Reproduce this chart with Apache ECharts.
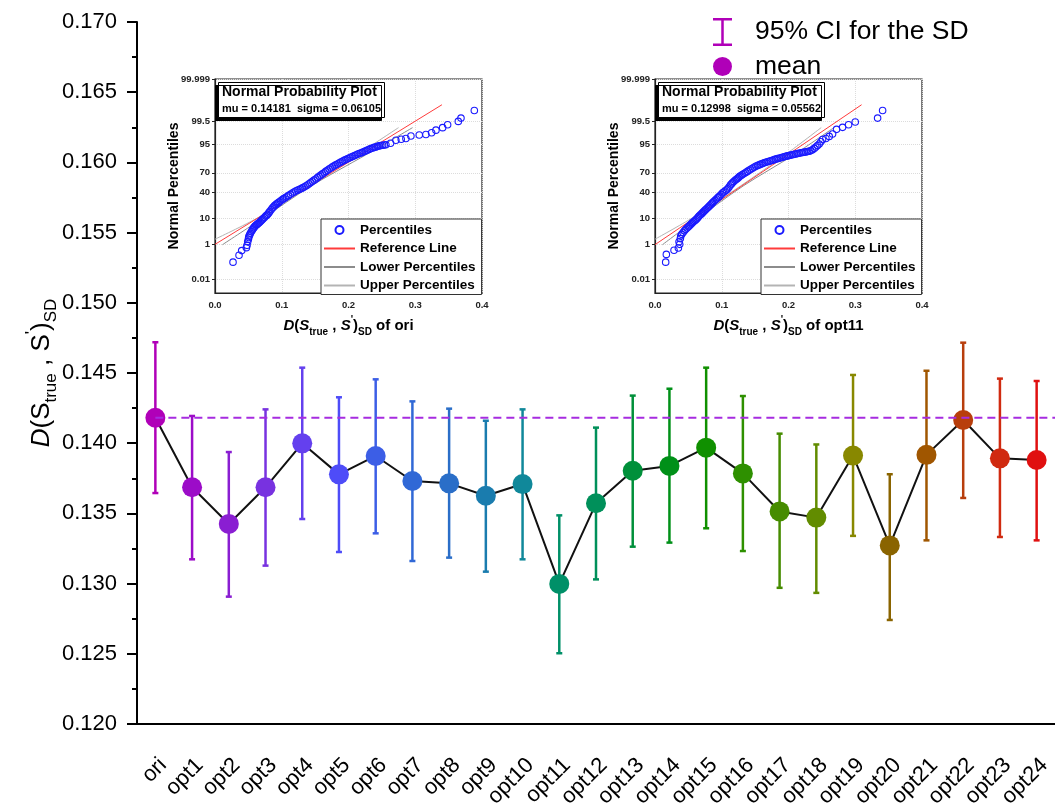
<!DOCTYPE html>
<html>
<head>
<meta charset="utf-8">
<script src="https://cdn.jsdelivr.net/npm/echarts@6/dist/echarts.min.js"></script>
<style>
html,body{margin:0;padding:0;background:#fff;}
#chart{width:1055px;height:811px;}
</style>
</head>
<body>
<div id="chart"></div>
<script>
// ---------------- data ----------------
const categories = ['ori','opt1','opt2','opt3','opt4','opt5','opt6','opt7','opt8','opt9','opt10','opt11','opt12','opt13','opt14','opt15','opt16','opt17','opt18','opt19','opt20','opt21','opt22','opt23','opt24'];
const means = [0.14181,0.13686,0.13425,0.13686,0.13999,0.13778,0.13909,0.13731,0.13714,0.13626,0.13709,0.12998,0.13572,0.13804,0.13838,0.13968,0.13785,0.13514,0.13470,0.13912,0.13272,0.13917,0.14165,0.13892,0.13880];
const ciUpper = [0.14719,0.14194,0.13937,0.14241,0.14538,0.14327,0.14455,0.14298,0.14246,0.14160,0.14241,0.13486,0.14111,0.14339,0.14388,0.14538,0.14336,0.14068,0.13991,0.14486,0.13779,0.14516,0.14716,0.14460,0.14443];
const ciLower = [0.13645,0.13173,0.12907,0.13128,0.13460,0.13225,0.13358,0.13161,0.13185,0.13085,0.13173,0.12504,0.13030,0.13263,0.13292,0.13394,0.13232,0.12970,0.12934,0.13340,0.12741,0.13308,0.13610,0.13332,0.13308];
const pointColors = ['#b000b8','#9c0cc8','#8a1ed2','#7832e0','#6440ee','#4e4cf8','#3c5ee6','#3068d6','#2a6ec8','#1a7cae','#10889a','#009068','#00905a','#00903a','#009018','#109000','#2e9000','#468c00','#628c00','#888800','#8a6400','#a05600','#b83e0c','#d02a10','#e01010'];
const yTicksMain = [0.120,0.125,0.130,0.135,0.140,0.145,0.150,0.155,0.160,0.165,0.170];

// inset: normal probability plots ([value, percentile %])
const pctTickLabels = ['0.01','1','10','40','70','95','99.5','99.999'];
const pctTicks = [0.01,1,10,40,70,95,99.5,99.999];
const pctAxisMin = 0.001, pctAxisMax = 99.999;

const muOri = 0.14181, sigmaOri = 0.06105;
const muOpt11 = 0.12998, sigmaOpt11 = 0.05562;

const percOri = [[0.027,0.12],[0.036,0.29],[0.040,0.5],[0.047,0.7],[0.048,0.9],[0.049,1.3],[0.050,1.7],[0.051,2.3],[0.053,3.0],[0.056,4.0],[0.058,4.8],[0.060,5.5],[0.063,6.3],[0.066,7.1],[0.069,8.3],[0.072,9.6],[0.076,11.5],[0.079,13],[0.082,15.5],[0.086,19],[0.089,21.5],[0.092,23.5],[0.096,26],[0.101,29.5],[0.105,32],[0.110,35],[0.116,39],[0.121,42],[0.126,44.5],[0.131,47],[0.136,50],[0.141,53.5],[0.146,57.5],[0.151,61],[0.156,65],[0.161,68.5],[0.166,72],[0.171,75],[0.176,77.7],[0.181,80],[0.186,82],[0.191,83.8],[0.196,85.4],[0.201,86.8],[0.206,88],[0.211,89.2],[0.216,90.2],[0.221,91],[0.226,92],[0.231,92.8],[0.236,93.5],[0.241,94],[0.246,94.5],[0.251,94.8],[0.256,95],[0.263,95.6],[0.271,96.6],[0.279,96.9],[0.286,97.1],[0.2935,97.7],[0.306,97.9],[0.316,98.0],[0.3245,98.3],[0.331,98.7],[0.341,99.0],[0.3485,99.27],[0.3645,99.5],[0.3685,99.66],[0.3885,99.87],
  [0.0505,2.0],[0.052,2.6],[0.0545,3.5],[0.057,4.4],[0.059,5.1],[0.0615,5.9],[0.0645,6.7],[0.0675,7.7],[0.0705,8.9],[0.074,10.5],[0.0775,12.2],[0.0805,14.2],[0.084,17.2],[0.0875,20.2],[0.0905,22.5],[0.094,24.7],[0.0985,27.7],[0.103,30.7],[0.1075,33.5],[0.113,37],[0.1185,40.5],[0.1235,43.2],[0.1285,45.7],[0.1335,48.5],[0.1385,51.7],[0.1435,55.5],[0.1485,59.2],[0.1535,63],[0.1585,66.7],[0.1635,70.2],[0.1685,73.5],[0.1735,76.4],[0.1785,78.9],[0.1835,81],[0.1885,82.9],[0.1935,84.6],[0.1985,86.1],[0.2035,87.4],[0.2085,88.6],[0.2135,89.7],[0.2185,90.6],[0.2235,91.5],[0.2285,92.4],[0.2335,93.2],[0.2385,93.8],[0.2435,94.3],[0.2485,94.7],[0.2535,94.9]];
const percOpt11 = [[0.016,0.12],[0.017,0.32],[0.0285,0.52],[0.035,0.67],[0.037,1.0],[0.036,1.3],[0.038,1.8],[0.0385,2.3],[0.042,3.2],[0.046,4.2],[0.050,5.2],[0.053,6.1],[0.056,7.1],[0.060,8.5],[0.063,9.8],[0.066,11.5],[0.070,13.5],[0.073,15.5],[0.076,17.5],[0.080,20],[0.083,22.5],[0.086,25],[0.090,28.5],[0.094,32],[0.097,34.5],[0.101,39],[0.105,42],[0.109,45.5],[0.113,51.5],[0.116,55],[0.120,59],[0.124,62],[0.127,65],[0.131,67.6],[0.136,70.5],[0.141,73.5],[0.146,76],[0.151,78.4],[0.156,80],[0.161,81.5],[0.166,82.8],[0.171,83.8],[0.176,84.8],[0.181,85.8],[0.186,86.6],[0.191,87.4],[0.196,88.2],[0.201,88.8],[0.206,89.4],[0.211,89.9],[0.216,90.4],[0.221,90.9],[0.226,91.3],[0.231,91.7],[0.236,92.6],[0.241,94],[0.246,95.3],[0.251,96.8],[0.256,97.1],[0.261,97.6],[0.266,98.1],[0.272,98.8],[0.281,99.03],[0.29,99.27],[0.30,99.46],[0.3335,99.66],[0.341,99.87],
  [0.040,2.7],[0.044,3.7],[0.048,4.7],[0.0515,5.6],[0.0545,6.6],[0.058,7.8],[0.0615,9.1],[0.0645,10.6],[0.068,12.5],[0.0715,14.5],[0.0745,16.5],[0.078,18.7],[0.0815,21.2],[0.0845,23.7],[0.088,26.7],[0.092,30.2],[0.0955,33.2],[0.099,36.7],[0.103,40.5],[0.107,43.7],[0.111,48.5],[0.1145,53.2],[0.118,57],[0.122,60.5],[0.1255,63.5],[0.129,66.3],[0.1335,69],[0.1385,72],[0.1435,74.8],[0.1485,77.2],[0.1535,79.2],[0.1585,80.8],[0.1635,82.2],[0.1685,83.3],[0.1735,84.3],[0.1785,85.3],[0.1835,86.2],[0.1885,87],[0.1935,87.8],[0.1985,88.5],[0.2035,89.1],[0.2085,89.7],[0.2135,90.2],[0.2185,90.7],[0.2235,91.1],[0.2285,91.5],[0.2335,92.1],[0.2385,93.3],[0.2435,94.7],[0.2485,96.1]];
const refOri = [[0, 1.0],[0.34, 99.94]];
const refOpt11 = [[0, 0.97],[0.3095, 99.94]];
const lowerOri = [[0.011,0.96],[0.07,9.5],[0.144,50],[0.225,89],[0.296,99]];
const upperOri = [[0.0,1.7],[0.065,10.5],[0.14,50],[0.215,90],[0.275,99]];
const lowerOpt11 = [[0.011,0.96],[0.063,9.5],[0.132,50],[0.207,89],[0.268,99]];
const upperOpt11 = [[0.0,1.7],[0.057,10.5],[0.128,50],[0.197,90],[0.249,99]];

// ---------------- helpers ----------------
function normInv(p){
  const a=[-3.969683028665376e+01,2.209460984245205e+02,-2.759285104469687e+02,1.383577518672690e+02,-3.066479806614716e+01,2.506628277459239e+00];
  const b=[-5.447609879822406e+01,1.615858368580409e+02,-1.556989798598866e+02,6.680131188771972e+01,-1.328068155288572e+01];
  const c=[-7.784894002430293e-03,-3.223964580411365e-01,-2.400758277161838e+00,-2.549732969502612e+00,4.374664141464968e+00,2.938163982698783e+00];
  const d=[7.784695709041462e-03,3.224671290700398e-01,2.445134137142996e+00,3.754408661907416e+00];
  const pl=0.02425, ph=1-pl; let q,r;
  if(p<pl){q=Math.sqrt(-2*Math.log(p));return (((((c[0]*q+c[1])*q+c[2])*q+c[3])*q+c[4])*q+c[5])/((((d[0]*q+d[1])*q+d[2])*q+d[3])*q+1);}
  if(p<=ph){q=p-0.5;r=q*q;return (((((a[0]*r+a[1])*r+a[2])*r+a[3])*r+a[4])*r+a[5])*q/(((((b[0]*r+b[1])*r+b[2])*r+b[3])*r+b[4])*r+1);}
  q=Math.sqrt(-2*Math.log(1-p));return -(((((c[0]*q+c[1])*q+c[2])*q+c[3])*q+c[4])*q+c[5])/((((d[0]*q+d[1])*q+d[2])*q+d[3])*q+1);
}
const toZ = arr => arr.map(([x,p]) => [x, normInv(p/100)]);
const zTicks = pctTicks.map(p => normInv(p/100));
function pctLabel(v){
  let best=0, bd=1e9;
  zTicks.forEach((z,i)=>{const dd=Math.abs(z-v); if(dd<bd){bd=dd;best=i;}});
  return pctTickLabels[best];
}

const FONT = '"Liberation Sans", Arial, sans-serif';
const insetRich = {
  bi:{fontStyle:'italic',fontWeight:'bold',fontSize:15,fontFamily:FONT,color:'#000',lineHeight:22},
  b:{fontWeight:'bold',fontSize:15,fontFamily:FONT,color:'#000',lineHeight:22},
  sub:{fontWeight:'bold',fontSize:10,fontFamily:FONT,color:'#000',verticalAlign:'bottom',lineHeight:10},
  sup:{fontWeight:'bold',fontSize:10,fontFamily:FONT,color:'#000',verticalAlign:'top',lineHeight:10}
};
function insetXName(tag){ return '{bi|D}{b|(}{bi|S}{sub|true}{b| , }{bi|S}{sup|\'}{b|)}{sub|SD}{b| of '+tag+'}'; }

function insetAxes(gridIndex, tag){
  const x = {
    type:'value', gridIndex, min:0, max:0.4, interval:0.1,
    name: insetXName(tag), nameLocation:'middle', nameGap:22, nameMoveOverlap:false,
    nameTextStyle:{rich:insetRich},
    axisLine:{show:true,onZero:false,lineStyle:{color:'#222',width:1.2}},
    axisTick:{show:false},
    axisLabel:{fontSize:9.5,fontWeight:'bold',fontFamily:FONT,color:'#222',margin:7,formatter:v=>v.toFixed(1)},
    splitLine:{show:true,lineStyle:{color:'#dcdcdc',type:'dotted',width:1}}
  };
  const y = {
    type:'value', gridIndex, min:normInv(pctAxisMin/100), max:normInv(pctAxisMax/100),
    name:'Normal Percentiles', nameLocation:'middle', nameGap:34, nameMoveOverlap:false,
    nameTextStyle:{fontSize:14,fontWeight:'bold',fontFamily:FONT,color:'#000'},
    axisLine:{show:true,onZero:false,lineStyle:{color:'#222',width:1.2}},
    axisTick:{show:true,length:3,customValues:zTicks,lineStyle:{color:'#222'}},
    axisLabel:{fontSize:9.5,fontWeight:'bold',fontFamily:FONT,color:'#222',margin:5,customValues:zTicks,formatter:v=>pctLabel(v)},
    splitLine:{show:true,lineStyle:{color:'#dcdcdc',type:'dotted',width:1}}
  };
  return [x,y];
}
const [ix1, iy1] = insetAxes(1, 'ori');
const [ix2, iy2] = insetAxes(2, 'opt11');

function insetSeries(idx, perc, ref, lower, upper){
  return [
    {name:'Percentiles', type:'scatter', xAxisIndex:idx+1, yAxisIndex:idx, data:toZ(perc), symbol:'circle', symbolSize:6.5,
      itemStyle:{color:'rgba(255,255,255,0)',borderColor:'#1a1aff',borderWidth:1.1,opacity:1}, z:5},
    {name:'Reference Line', type:'line', xAxisIndex:idx+1, yAxisIndex:idx, data:toZ(ref), symbol:'none', showSymbol:false,
      lineStyle:{color:'#ff3b3b',width:1}, itemStyle:{color:'#ff3b3b'}, z:4},
    {name:'Lower Percentiles', type:'line', xAxisIndex:idx+1, yAxisIndex:idx, data:toZ(lower), symbol:'none', showSymbol:false, smooth:0.3,
      lineStyle:{color:'#8c8c8c',width:1}, itemStyle:{color:'#8c8c8c'}, z:3},
    {name:'Upper Percentiles', type:'line', xAxisIndex:idx+1, yAxisIndex:idx, data:toZ(upper), symbol:'none', showSymbol:false, smooth:0.3,
      lineStyle:{color:'#b4b4b4',width:1}, itemStyle:{color:'#b4b4b4'}, z:3}
  ];
}

function insetTitle(left, mu, sigma){
  return {
    left, top:82, text:'Normal Probability Plot', subtext:'mu = '+mu.toFixed(5)+'  sigma = '+sigma.toFixed(5),
    textAlign:'left', itemGap:4, padding:[3,4,4,4],
    backgroundColor:'#fff', borderColor:'#000', borderWidth:1,
    shadowColor:'#000', shadowBlur:0, shadowOffsetX:-3, shadowOffsetY:3,
    textStyle:{fontSize:14,fontWeight:'bold',fontFamily:FONT,color:'#000'},
    subtextStyle:{fontSize:11,fontWeight:'bold',fontFamily:FONT,color:'#000'}
  };
}
function insetLegend(left){
  const line = {itemStyle:{opacity:0}};
  return {
    left, top:219, orient:'vertical', selectedMode:false,
    backgroundColor:'#fff', borderColor:'#333', borderWidth:1, padding:[4,6,2,2],
    itemWidth:31, itemHeight:8, itemGap:4.5,
    textStyle:{fontSize:13.5,fontWeight:'bold',fontFamily:FONT,color:'#000'},
    data:[{name:'Percentiles'},Object.assign({name:'Reference Line'},line),Object.assign({name:'Lower Percentiles'},line),Object.assign({name:'Upper Percentiles'},line)]
  };
}

const chart = echarts.init(document.getElementById('chart'), null, {renderer:'canvas'});
const option = {
  backgroundColor:'#fff',
  animation:false,
  title:[insetTitle(218, muOri, sigmaOri), insetTitle(658, muOpt11, sigmaOpt11)],
  legend:[
    {left:708, top:13, orient:'vertical', selectedMode:false, itemWidth:19, itemHeight:28, itemGap:7,
      textStyle:{fontSize:26.5,fontFamily:FONT,color:'#000',padding:[0,0,0,18]},
      data:[{name:'95% CI for the SD',icon:'path://M0,0h19v2.5h-8.25v23h8.25v2.5h-19v-2.5h8.25v-23h-8.25z'},{name:'mean',icon:'circle'}]},
    insetLegend(321),
    insetLegend(761)
  ],
  grid:[
    {left:137, right:0, top:22, bottom:87},
    {left:215, top:79, width:267, height:214, show:true, backgroundColor:'#fff', borderColor:'#222', borderWidth:1.2},
    {left:655, top:79, width:267, height:214, show:true, backgroundColor:'#fff', borderColor:'#222', borderWidth:1.2}
  ],
  xAxis:[
    {type:'category', gridIndex:0, data:categories, boundaryGap:true,
      axisLine:{onZero:false,lineStyle:{color:'#000',width:2}},
      axisTick:{alignWithLabel:true,length:12,lineStyle:{color:'#000',width:2}},
      axisLabel:{rotate:45,fontSize:22,fontFamily:FONT,color:'#000',margin:30,verticalAlign:'top',interval:0},
      splitLine:{show:false}},
    {type:'value', gridIndex:0, min:-0.5, max:categories.length-0.5, show:false},
    ix1, ix2
  ],
  yAxis:[
    {type:'value', gridIndex:0, min:yTicksMain[0], max:yTicksMain[yTicksMain.length-1], interval:0.005,
      name:'{i|D}{n|(S}{sub|true}{n| , S}{sup|\'}{n|)}{sub|SD}', nameLocation:'middle', nameGap:77, nameMoveOverlap:false,
      nameTextStyle:{rich:{
        i:{fontStyle:'italic',fontSize:26,fontFamily:FONT,color:'#000',lineHeight:36},
        n:{fontSize:26,fontFamily:FONT,color:'#000',lineHeight:36},
        sub:{fontSize:17,fontFamily:FONT,color:'#000',verticalAlign:'bottom',lineHeight:17},
        sup:{fontSize:17,fontFamily:FONT,color:'#000',verticalAlign:'top',lineHeight:17}
      }},
      axisLine:{show:true,onZero:false,lineStyle:{color:'#000',width:2}},
      axisTick:{show:true,length:10,lineStyle:{color:'#000',width:2}},
      minorTick:{show:true,splitNumber:2,length:5,lineStyle:{color:'#000',width:2}},
      axisLabel:{fontSize:22,fontFamily:FONT,color:'#000',margin:20,formatter:v=>v.toFixed(3)},
      splitLine:{show:false}},
    iy1, iy2
  ],
  series:[
    {name:'connect', type:'line', xAxisIndex:0, yAxisIndex:0, data:means, symbol:'none', showSymbol:false,
      lineStyle:{color:'#111',width:2}, z:2, silent:true},
    {name:'95% CI for the SD', type:'custom', xAxisIndex:0, yAxisIndex:0,
      itemStyle:{color:'#b000b8'},
      data:categories.map((c,i)=>[i, ciLower[i], ciUpper[i]]),
      renderItem:function(params, api){
        const i = params.dataIndex;
        const lo = api.coord([api.value(0), api.value(1)]);
        const hi = api.coord([api.value(0), api.value(2)]);
        const col = pointColors[i];
        const hw = 3;
        const st = {stroke:col, lineWidth:2.5};
        return {type:'group', children:[
          {type:'line', shape:{x1:lo[0],y1:lo[1],x2:hi[0],y2:hi[1]}, style:st},
          {type:'line', shape:{x1:hi[0]-hw,y1:hi[1],x2:hi[0]+hw,y2:hi[1]}, style:st},
          {type:'line', shape:{x1:lo[0]-hw,y1:lo[1],x2:lo[0]+hw,y2:lo[1]}, style:st}
        ]};
      }, z:3},
    {name:'mean', type:'scatter', xAxisIndex:0, yAxisIndex:0, symbol:'circle', symbolSize:20,
      itemStyle:{color:'#b000b8',opacity:1},
      data:means.map((v,i)=>({value:v, itemStyle:{color:pointColors[i],opacity:1}})), z:4},
    {name:'oriMean', type:'line', xAxisIndex:1, yAxisIndex:0,
      data:[[0, means[0]],[categories.length-0.5, means[0]]], symbol:'none', showSymbol:false,
      lineStyle:{color:'#a62ce0',width:2,type:[8,5]}, z:5, silent:true},
    ...insetSeries(1, percOri, refOri, lowerOri, upperOri),
    ...insetSeries(2, percOpt11, refOpt11, lowerOpt11, upperOpt11)
  ]
};
chart.setOption(option);
</script>
</body>
</html>
